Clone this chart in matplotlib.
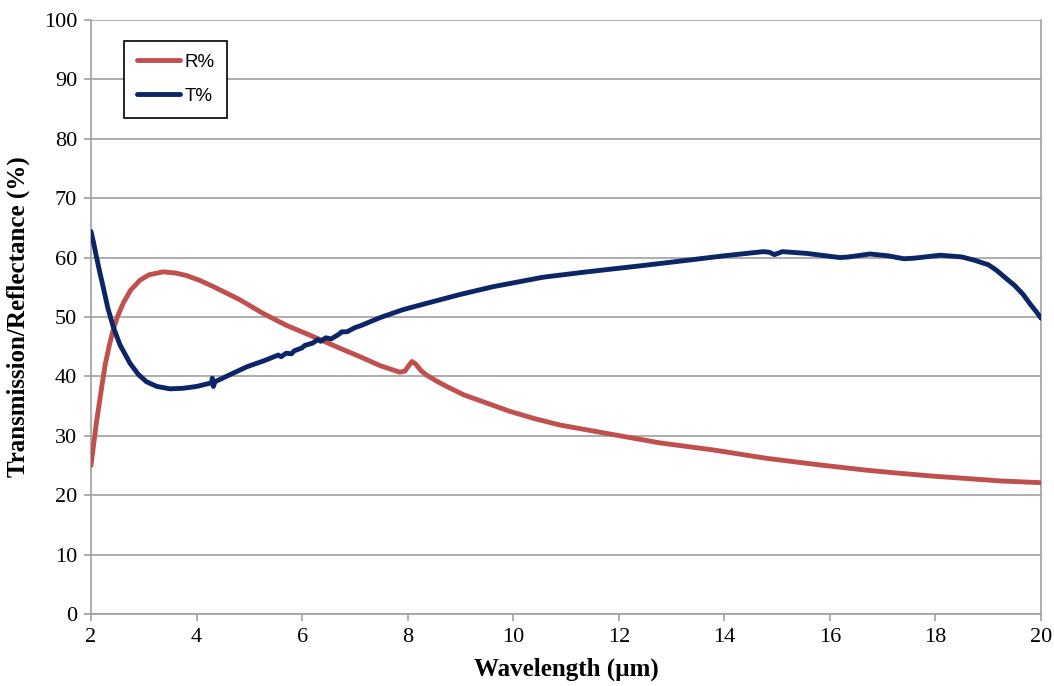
import matplotlib
matplotlib.use("Agg")
import matplotlib.pyplot as plt

# reflectance curve
r_wl = [2.0, 2.05, 2.1, 2.15, 2.2, 2.27, 2.35, 2.42, 2.5, 2.61, 2.75, 2.93, 3.1, 3.37,
        3.6, 3.8, 4.05, 4.32, 4.8, 5.26, 5.7, 6.21, 6.7, 7.1, 7.48, 7.75, 7.85, 7.95,
        8.02, 8.08, 8.15, 8.25, 8.36, 8.55, 8.74, 9.06, 9.5, 9.94, 10.4, 10.89,
        11.83, 12.78, 13.8, 14.8, 15.8, 16.7, 17.3, 17.96, 18.6, 19.22, 20.0]
r_pct = [25.0, 28.5, 32.0, 35.0, 38.0, 42.0, 45.3, 47.8, 50.0, 52.3, 54.5, 56.2, 57.1, 57.6,
         57.4, 57.0, 56.2, 55.1, 53.0, 50.6, 48.6, 46.7, 44.8, 43.3, 41.8, 41.0, 40.7, 40.9,
         41.8, 42.5, 42.1, 41.0, 40.2, 39.2, 38.3, 36.9, 35.5, 34.1, 32.9, 31.8,
         30.3, 28.8, 27.6, 26.2, 25.1, 24.2, 23.7, 23.2, 22.8, 22.4, 22.1]

# transmission curve
t_wl = [2.0, 2.05, 2.1, 2.16, 2.23, 2.32, 2.42, 2.55, 2.74, 2.9, 3.05, 3.25, 3.5, 3.75,
        4.0, 4.28, 4.30, 4.32, 4.35, 4.95, 5.3, 5.55, 5.6, 5.7, 5.8, 5.85, 6.0, 6.05,
        6.2, 6.3, 6.35, 6.45, 6.55, 6.7, 6.75, 6.85, 7.0, 7.1, 7.48, 7.9, 8.36, 9.0,
        9.62, 10.57, 11.4, 12.4, 13.35, 14.0, 14.74, 14.85, 14.95, 15.1, 15.56, 16.19,
        16.35, 16.76, 17.1, 17.4, 17.6, 18.09, 18.5, 18.72, 19.0, 19.15, 19.35, 19.5,
        19.66, 19.8, 19.9, 20.0]
t_pct = [64.4, 62.5, 60.3, 57.8, 55.1, 51.5, 48.4, 45.3, 42.2, 40.3, 39.1, 38.3, 37.9, 38.0,
         38.3, 38.9, 39.7, 38.3, 39.1, 41.6, 42.7, 43.6, 43.3, 43.9, 43.8, 44.3, 44.8, 45.2,
         45.6, 46.2, 45.9, 46.5, 46.3, 47.1, 47.5, 47.5, 48.2, 48.5, 49.9, 51.2, 52.3, 53.8,
         55.1, 56.7, 57.6, 58.6, 59.6, 60.3, 61.0, 60.9, 60.5, 61.0, 60.7, 60.0,
         60.1, 60.6, 60.3, 59.8, 59.9, 60.4, 60.1, 59.6, 58.8, 57.9, 56.4, 55.3,
         53.8, 52.1, 51.0, 49.8]

x_ticks = [2, 4, 6, 8, 10, 12, 14, 16, 18, 20]
y_ticks = [0, 10, 20, 30, 40, 50, 60, 70, 80, 90, 100]

red = "#C0504D"
navy = "#0B2566"
grid_c = "#A0A0A0"

fig = plt.figure(figsize=(10.54, 6.86), dpi=100)
ax = fig.add_axes([0.0863, 0.105, 0.9014, 0.8659])

ax.plot(r_wl, r_pct, color=red, lw=3.5, label="R%", solid_capstyle="round",
        solid_joinstyle="round", zorder=3)
ax.plot(t_wl, t_pct, color=navy, lw=3.5, label="T%", solid_capstyle="round",
        solid_joinstyle="round", zorder=4)

ax.set_xlim(2, 20)
ax.set_ylim(0, 100)
ax.set_xticks(x_ticks)
ax.set_yticks(y_ticks)
ax.yaxis.grid(True, color=grid_c, lw=1.2)
ax.set_axisbelow(True)

for side in ["left", "bottom", "right"]:
    ax.spines[side].set_color(grid_c)
    ax.spines[side].set_linewidth(1.2)
ax.spines["top"].set_visible(False)

ax.tick_params(axis="both", direction="out", color=grid_c, length=5, width=1.2,
               labelsize=16, pad=5)
for lab in ax.get_xticklabels() + ax.get_yticklabels():
    lab.set_family("Liberation Serif")

ax.set_xlabel("Wavelength (µm)", family="Liberation Serif", fontweight="bold",
              fontsize=18, labelpad=8)
ax.set_ylabel("Transmission/Reflectance (%)", family="Liberation Serif",
              fontweight="bold", fontsize=18, labelpad=10)

leg = ax.legend(loc="upper left", bbox_to_anchor=(0.035, 0.965), borderaxespad=0,
                fancybox=False, framealpha=1, edgecolor="black", handlelength=2.3,
                handletextpad=0.2, labelspacing=0.9, borderpad=0.7,
                prop={"family": "Liberation Sans", "size": 13.5})
leg.get_frame().set_linewidth(1.2)

fig.savefig("out.png", dpi=100)
